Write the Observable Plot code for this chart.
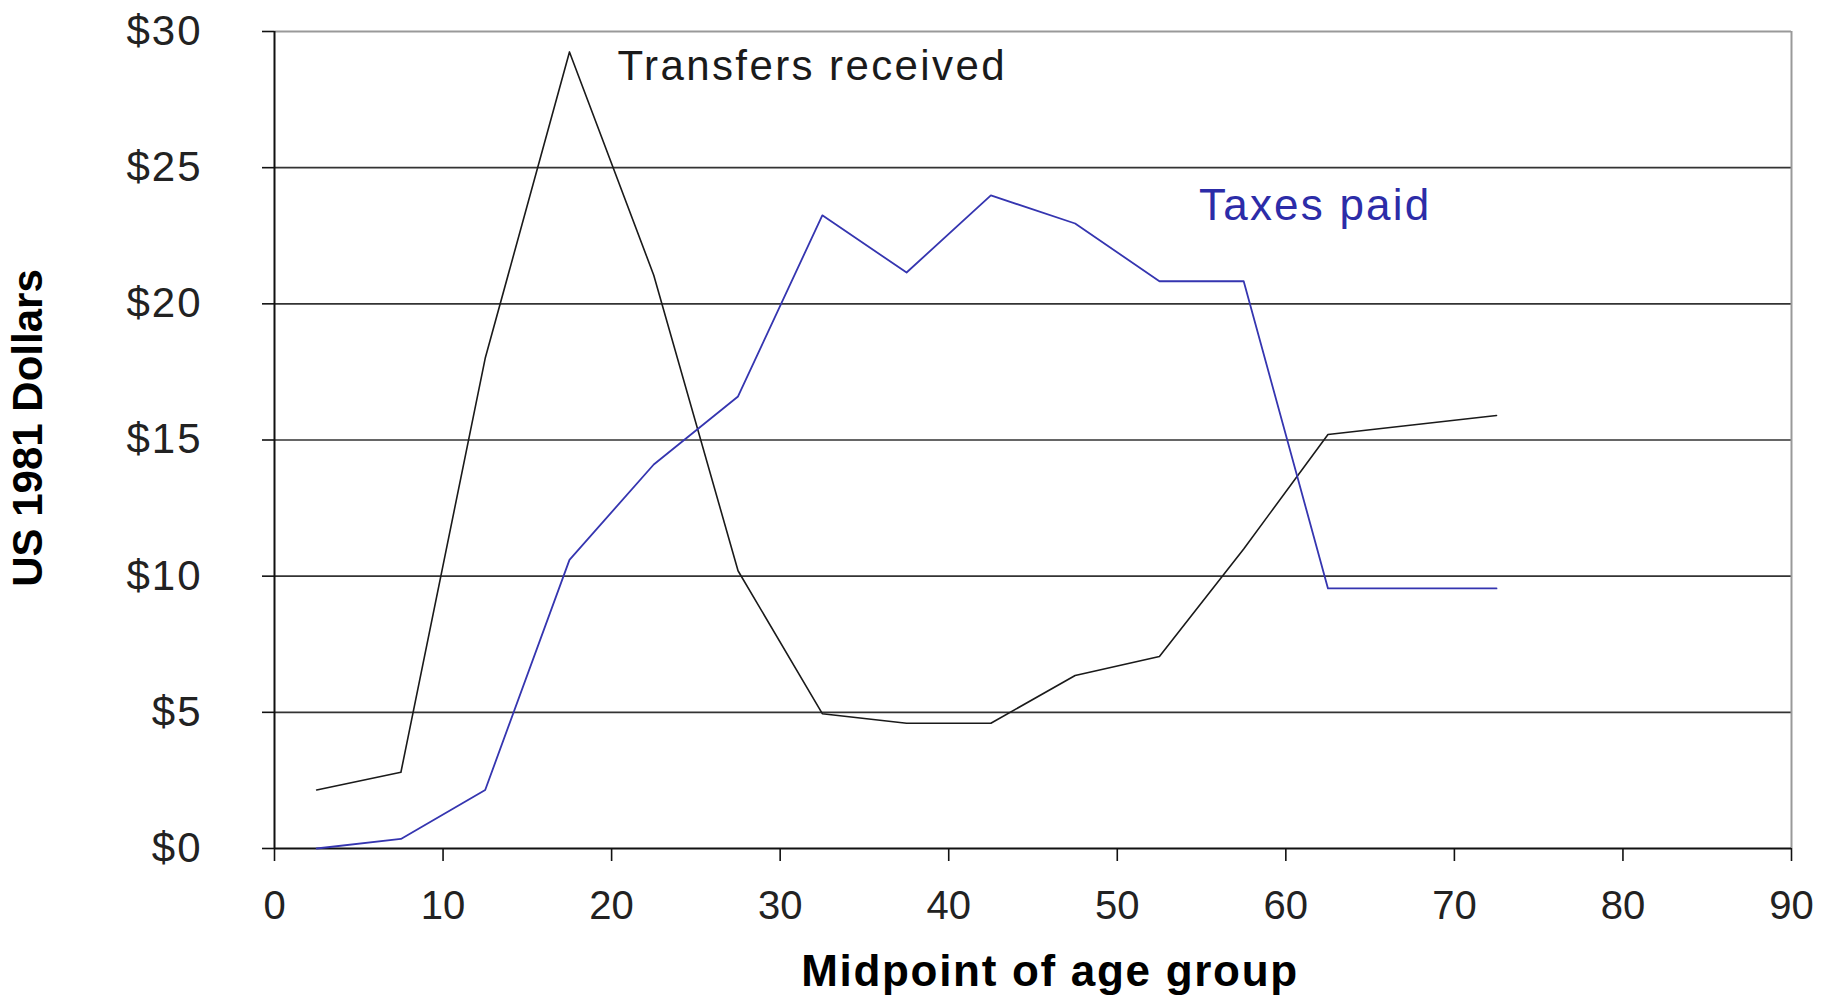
<!DOCTYPE html>
<html>
<head>
<meta charset="utf-8">
<script src="https://cdn.jsdelivr.net/npm/d3@7"></script>
<script src="https://cdn.jsdelivr.net/npm/@observablehq/plot@0.6"></script>
<style>
  html, body { margin: 0; padding: 0; background: #fff; }
  #chart svg { display: block; }
</style>
</head>
<body>
<div id="chart"></div>
<script>
// Midpoint of age group
const ages = [2.5, 7.5, 12.5, 17.5, 22.5, 27.5, 32.5, 37.5, 42.5, 47.5, 52.5, 57.5, 62.5, 67.5, 72.5];
// US 1981 dollars
const transfersReceived = [2.15, 2.8, 18.0, 29.25, 21.05, 10.2, 4.95, 4.6, 4.6, 6.35, 7.05, 11.0, 15.2, 15.55, 15.9];
const taxesPaid = [0.0, 0.35, 2.15, 10.6, 14.1, 16.6, 23.25, 21.15, 23.98, 22.95, 20.83, 20.83, 9.55, 9.55, 9.55];

const xTicks = [0, 10, 20, 30, 40, 50, 60, 70, 80, 90];
const yTicks = [0, 5, 10, 15, 20, 25, 30];
const gridValues = [5, 10, 15, 20, 25];

const seriesLabels = [
  {text: "Transfers received", age: 20.35, value: 28.7, color: "#1a1a1a", size: 42},
  {text: "Taxes paid", age: 54.85, value: 23.58, color: "#2c2ca8", size: 44}
];

const transfersData = ages.map((a, i) => ({age: a, value: transfersReceived[i]}));
const taxesData = ages.map((a, i) => ({age: a, value: taxesPaid[i]}));

const font = "'Liberation Sans', Arial, Helvetica, sans-serif";

const chart = Plot.plot({
  width: 1836,
  height: 999,
  marginLeft: 274,
  marginRight: 45,
  marginTop: 31,
  marginBottom: 151,
  style: {fontFamily: font, color: "#1a1a1a", background: "#fff"},
  x: {domain: [0, 90]},
  y: {domain: [0, 30]},
  marks: [
    Plot.ruleY(gridValues, {stroke: "#333", strokeWidth: 1.6}),
    Plot.ruleY([30], {stroke: "#999", strokeWidth: 2}),
    Plot.ruleX([90], {stroke: "#999", strokeWidth: 2}),
    Plot.ruleX([0], {stroke: "#111", strokeWidth: 2}),
    Plot.ruleY([0], {stroke: "#111", strokeWidth: 2.2}),
    Plot.axisY({ticks: yTicks, tickSize: 12, tickPadding: 60, tickFormat: d => "$" + d, fontSize: 42, label: null, stroke: "#111", strokeWidth: 1.6, fill: "#222"}),
    Plot.axisX({ticks: xTicks, tickSize: 13, tickPadding: 29, fontSize: 40, label: null, stroke: "#111", strokeWidth: 1.6, fill: "#222"}),
    Plot.lineY(transfersData, {x: "age", y: "value", stroke: "#1a1a1a", strokeWidth: 1.6}),
    Plot.lineY(taxesData, {x: "age", y: "value", stroke: "#3535b0", strokeWidth: 1.8}),
    Plot.text(seriesLabels, {x: "age", y: "value", text: "text", fill: "color", fontSize: "size", textAnchor: "start", lineAnchor: "middle"}),
    Plot.text(["Midpoint of age group"], {frameAnchor: "bottom", dx: 17, dy: 123, lineAnchor: "middle", fontSize: 44, fontWeight: "bold", fill: "#000"}),
    Plot.text(["US 1981 Dollars"], {frameAnchor: "left", dx: -246, dy: -12, rotate: -90, textAnchor: "middle", lineAnchor: "middle", fontSize: 42, fontWeight: "bold", fill: "#000"})
  ]
});

// Widen lettering slightly to match the reference's stretched type
const svg = d3.select(chart);
svg.selectAll('g[aria-label="y-axis tick label"] text').attr("letter-spacing", "2px");
svg.selectAll('g[aria-label="text"] text').each(function() {
  const t = this.textContent;
  const sp = t === "Transfers received" ? 2.4 : t === "Taxes paid" ? 2.2 : t === "Midpoint of age group" ? 1.7 : 0;
  if (sp) d3.select(this).attr("letter-spacing", sp + "px");
});

document.getElementById("chart").appendChild(chart);
</script>
</body>
</html>
